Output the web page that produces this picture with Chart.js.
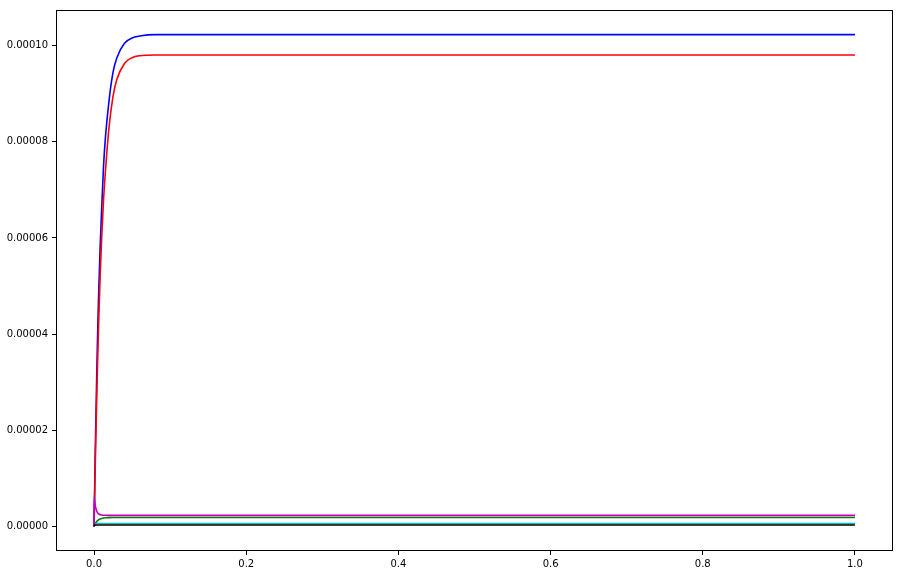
<!DOCTYPE html>
<html>
<head>
<meta charset="utf-8">
<script src="https://cdn.jsdelivr.net/npm/chart.js@4/dist/chart.umd.min.js"></script>
<style>
html,body{margin:0;padding:0;background:#fff;}
canvas{display:block;}
</style>
</head>
<body>
<canvas id="c" width="899" height="575"></canvas>
<script>
const times = [0, 0.0003, 0.001, 0.002, 0.003, 0.004, 0.005, 0.006, 0.008, 0.01, 0.0125, 0.015, 0.02, 0.025, 0.03, 0.04, 0.05, 0.06, 0.08, 0.1, 1.0];
const blueVals = [0, 3e-6, 10e-6, 19e-6, 27e-6, 35e-6, 42e-6, 48e-6, 58e-6, 66e-6, 75e-6, 81e-6, 89e-6, 94.5e-6, 97.5e-6, 100.5e-6, 101.6e-6, 102.0e-6, 102.3e-6, 102.3e-6, 102.3e-6];
const redVals = [0, 2.5e-6, 8e-6, 16e-6, 23e-6, 30e-6, 36e-6, 42e-6, 52e-6, 60e-6, 68e-6, 74e-6, 83.5e-6, 89.5e-6, 93e-6, 96.3e-6, 97.5e-6, 97.9e-6, 98.05e-6, 98.05e-6, 98.05e-6];
const greenVals = [0, 0.1e-6, 0.35e-6, 0.65e-6, 0.9e-6, 1.1e-6, 1.25e-6, 1.38e-6, 1.55e-6, 1.66e-6, 1.74e-6, 1.79e-6, 1.83e-6, 1.85e-6, 1.86e-6, 1.86e-6, 1.86e-6, 1.86e-6, 1.86e-6, 1.86e-6, 1.86e-6];
const cyanVals = [0, 0.15e-6, 0.35e-6, 0.5e-6, 0.56e-6, 0.59e-6, 0.6e-6, 0.6e-6, 0.6e-6, 0.6e-6, 0.6e-6, 0.6e-6, 0.6e-6, 0.6e-6, 0.6e-6, 0.6e-6, 0.6e-6, 0.6e-6, 0.6e-6, 0.6e-6, 0.6e-6];
const magentaVals = [0, 6.0e-6, 5.0e-6, 4.0e-6, 3.4e-6, 3.0e-6, 2.75e-6, 2.6e-6, 2.45e-6, 2.38e-6, 2.33e-6, 2.31e-6, 2.3e-6, 2.3e-6, 2.3e-6, 2.3e-6, 2.3e-6, 2.3e-6, 2.3e-6, 2.3e-6, 2.3e-6];
const blackVals = [0, 0.2e-6, 0.3e-6, 0.3e-6, 0.3e-6, 0.3e-6, 0.3e-6, 0.3e-6, 0.3e-6, 0.3e-6, 0.3e-6, 0.3e-6, 0.3e-6, 0.3e-6, 0.3e-6, 0.3e-6, 0.3e-6, 0.3e-6, 0.3e-6, 0.3e-6, 0.3e-6];
const xTicks = [0, 0.2, 0.4, 0.6, 0.8, 1.0];
const yTicks = [0, 0.00002, 0.00004, 0.00006, 0.00008, 0.00010];

function pts(vals){ return times.map((t,i)=>({x:t,y:vals[i]})); }
function ds(vals,color,order){
  return {data:pts(vals),borderColor:color,backgroundColor:color,borderWidth:1.6,pointRadius:0,fill:false,cubicInterpolationMode:'monotone',order:order};
}

const frame = {
  id:'frame',
  afterDraw(chart){
    const a=chart.chartArea, ctx=chart.ctx;
    ctx.save();
    ctx.strokeStyle='#000';
    ctx.lineWidth=1;
    ctx.strokeRect(Math.round(a.left)+0.5, Math.round(a.top)+0.5, Math.round(a.right-a.left)-1, Math.round(a.bottom-a.top)-1);
    ctx.restore();
  }
};

new Chart(document.getElementById('c'),{
  type:'line',
  data:{datasets:[
    ds(blueVals,'#0000ff',6),
    ds(redVals,'#ff0000',5),
    ds(greenVals,'#008000',4),
    ds(cyanVals,'#00bfbf',3),
    ds(magentaVals,'#bf00bf',2),
    ds(blackVals,'#000000',1)
  ]},
  options:{
    responsive:false,
    animation:false,
    devicePixelRatio:1,
    layout:{padding:{top:7,right:6,left:0,bottom:0}},
    plugins:{legend:{display:false},tooltip:{enabled:false}},
    scales:{
      x:{
        type:'linear',min:-0.05,max:1.05,
        afterBuildTicks(s){ s.ticks = xTicks.map(v=>({value:v})); },
        afterFit(s){ s.height = 24; },
        grid:{drawOnChartArea:false,drawTicks:true,tickLength:4,color:'#000'},
        border:{display:false},
        ticks:{color:'#000',font:{family:'DejaVu Sans',size:10},padding:3,maxRotation:0,autoSkip:false,
          callback:(v)=>Number(v).toFixed(1)}
      },
      y:{
        type:'linear',min:-5.115e-6,max:107.415e-6,
        afterBuildTicks(s){ s.ticks = yTicks.map(v=>({value:v})); },
        afterFit(s){ s.width = 56; },
        grid:{drawOnChartArea:false,drawTicks:true,tickLength:4,color:'#000'},
        border:{display:false},
        ticks:{color:'#000',font:{family:'DejaVu Sans',size:10},padding:4,autoSkip:false,
          callback:(v)=>Number(v).toFixed(5)}
      }
    }
  },
  plugins:[frame]
});
</script>
</body>
</html>
